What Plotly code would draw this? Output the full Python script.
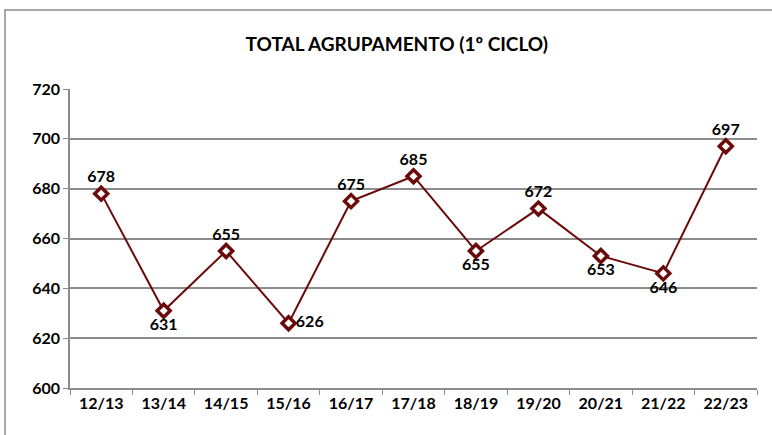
import plotly.graph_objects as go

categories = ["12/13", "13/14", "14/15", "15/16", "16/17", "17/18", "18/19", "19/20", "20/21", "21/22", "22/23"]
values = [678, 631, 655, 626, 675, 685, 655, 672, 653, 646, 697]
label_pos = ["top center", "bottom center", "top center", "middle right", "top center", "top center",
             "bottom center", "top center", "bottom center", "bottom center", "top center"]
y_ticks = [600, 620, 640, 660, 680, 700, 720]
title = "TOTAL AGRUPAMENTO (1º CICLO)"

FONT = "Lato, Open Sans, Arial, sans-serif"
LINE = "#6B0A0A"
GRID = "#8c8c8c"

fig = go.Figure()
fig.add_trace(go.Scatter(
    x=categories, y=values, mode="lines+markers+text",
    line=dict(color=LINE, width=2),
    marker=dict(symbol="diamond", size=10, color="white", line=dict(color=LINE, width=3.5)),
    text=[str(v) for v in values], textposition=label_pos,
    textfont=dict(family=FONT, size=16, color="black", weight="bold"),
    cliponaxis=False, showlegend=False,
))

fig.update_layout(
    width=772, height=435,
    margin=dict(l=70, r=15, t=89, b=47),
    paper_bgcolor="white", plot_bgcolor="white",
    title=dict(text=title, x=0.514, xanchor="center", y=0.897, yanchor="middle",
               font=dict(family=FONT, size=19, color="black", weight="bold")),
    xaxis=dict(type="category", showgrid=False, showline=True, linecolor=GRID, linewidth=1.5,
               ticks="outside", ticklen=5, tickcolor=GRID, tickson="boundaries",
               tickfont=dict(family=FONT, size=16, color="black", weight="bold"),
               range=[-0.5, 10.5], fixedrange=True),
    yaxis=dict(range=[600, 720], tickvals=y_ticks, showgrid=True, gridcolor=GRID, gridwidth=1.5,
               showline=True, linecolor=GRID, linewidth=1.5, ticks="outside", ticklen=5,
               tickcolor=GRID, zeroline=False,
               tickfont=dict(family=FONT, size=16, color="black", weight="bold")),
    shapes=[dict(type="rect", xref="paper", yref="paper",
                 x0=(5 - 70) / 687, x1=1.2, y0=-0.4, y1=1 + (89 - 10) / 299,
                 line=dict(color=GRID, width=1.5), fillcolor="rgba(0,0,0,0)", layer="below")],
)

fig.write_html("out.html", config={"displayModeBar": False},
               post_script="document.body.style.margin='0';document.body.style.overflow='hidden';")
